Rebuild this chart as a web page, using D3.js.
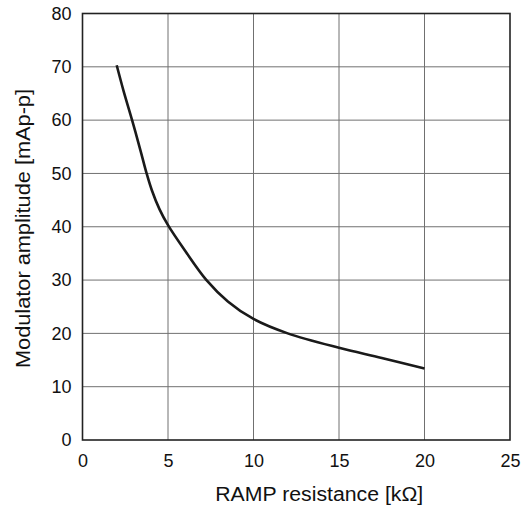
<!DOCTYPE html>
<html><head><meta charset="utf-8">
<script src="https://cdn.jsdelivr.net/npm/d3@7"></script>
<style>body{margin:0;background:#fff}svg{display:block}</style>
</head><body>
<script>
const resistance = [2, 2.4, 2.9, 3.4, 3.75, 4.05, 4.5, 5.0, 6.0, 7.25, 8.5, 10, 12, 15, 17.5, 20];
const amplitude  = [70.3, 65.5, 60, 54.2, 50, 46.9, 43.3, 40.3, 35.5, 30, 26, 22.7, 20, 17.3, 15.4, 13.4];
const xTicks = [0, 5, 10, 15, 20, 25];
const yTicks = [0, 10, 20, 30, 40, 50, 60, 70, 80];
const xTitle = "RAMP resistance [kΩ]";
const yTitle = "Modulator amplitude [mAp-p]";

const W = 523, H = 512;
const m = {left: 82.5, right: 13, top: 13.5, bottom: 72};
const svg = d3.select("body").append("svg").attr("width", W).attr("height", H);
const x = d3.scaleLinear().domain([0, 25]).range([m.left, W - m.right]);
const y = d3.scaleLinear().domain([0, 80]).range([H - m.bottom, m.top]);
const font = "'Liberation Sans', Arial, sans-serif";

// grid
svg.append("g").selectAll("line").data(xTicks.slice(1, -1)).join("line")
  .attr("x1", d => x(d)).attr("x2", d => x(d)).attr("y1", y(0)).attr("y2", y(80))
  .attr("stroke", "#707070").attr("stroke-width", 1);
svg.append("g").selectAll("line").data(yTicks.slice(1, -1)).join("line")
  .attr("y1", d => y(d)).attr("y2", d => y(d)).attr("x1", x(0)).attr("x2", x(25))
  .attr("stroke", "#707070").attr("stroke-width", 1);

// axes (labels only)
const xAxis = svg.append("g").attr("transform", `translate(0,${y(0)})`)
  .call(d3.axisBottom(x).tickValues(xTicks).tickSize(0).tickPadding(14));
const yAxis = svg.append("g").attr("transform", `translate(${x(0)},0)`)
  .call(d3.axisLeft(y).tickValues(yTicks).tickSize(0).tickPadding(11));
[xAxis, yAxis].forEach(a => {
  a.select(".domain").remove();
  a.selectAll("text").attr("font-family", font).attr("font-size", 18).attr("fill", "#111");
});

// frame
svg.append("rect").attr("x", x(0)).attr("y", y(80)).attr("width", x(25) - x(0)).attr("height", y(0) - y(80))
  .attr("fill", "none").attr("stroke", "#222").attr("stroke-width", 1.6);

// curve
const pts = resistance.map((r, i) => [r, amplitude[i]]);
svg.append("path").datum(pts)
  .attr("d", d3.line().x(d => x(d[0])).y(d => y(d[1])).curve(d3.curveCatmullRom.alpha(0.5)))
  .attr("fill", "none").attr("stroke", "#1a1a1a").attr("stroke-width", 2.6);

// titles
svg.append("text").attr("x", (x(0) + x(25)) / 2 + 23).attr("y", 501).attr("text-anchor", "middle")
  .attr("font-family", font).attr("font-size", 20).attr("fill", "#111")
  .attr("textLength", 208).attr("lengthAdjust", "spacingAndGlyphs").text(xTitle);
svg.append("text").attr("transform", `translate(30,${(89 + 368) / 2}) rotate(-90)`)
  .attr("text-anchor", "middle").attr("font-family", font).attr("font-size", 20).attr("fill", "#111")
  .attr("textLength", 279).attr("lengthAdjust", "spacingAndGlyphs").text(yTitle);
</script>
</body></html>
